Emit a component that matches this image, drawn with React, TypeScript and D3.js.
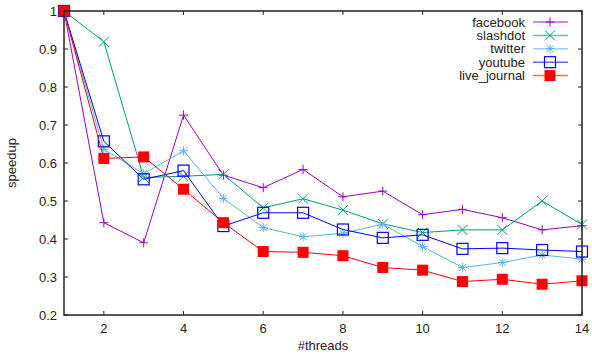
import React, { useRef, useEffect } from "react";
import * as d3 from "d3";

const threads = [1, 2, 3, 4, 5, 6, 7, 8, 9, 10, 11, 12, 13, 14];
const facebook = [1, 0.443, 0.39, 0.726, 0.568, 0.535, 0.583, 0.511, 0.526, 0.464, 0.478, 0.456, 0.424, 0.435];
const slashdot = [1, 0.919, 0.562, 0.565, 0.57, 0.482, 0.506, 0.476, 0.44, 0.417, 0.424, 0.424, 0.5, 0.438];
const twitter = [1, 0.636, 0.572, 0.632, 0.507, 0.43, 0.406, 0.415, 0.439, 0.38, 0.325, 0.338, 0.358, 0.347];
const youtube = [1, 0.657, 0.557, 0.58, 0.434, 0.469, 0.469, 0.425, 0.403, 0.411, 0.374, 0.376, 0.371, 0.367];
const liveJournal = [1, 0.612, 0.616, 0.531, 0.443, 0.367, 0.365, 0.356, 0.325, 0.318, 0.288, 0.294, 0.281, 0.29];

const seriesNames = ["facebook", "slashdot", "twitter", "youtube", "live_journal"];
const xTicks = [2, 4, 6, 8, 10, 12, 14];
const yTicks = [0.2, 0.3, 0.4, 0.5, 0.6, 0.7, 0.8, 0.9, 1];

const App = () => {
  const svgRef = useRef<SVGSVGElement>(null);

  useEffect(() => {
    const svg = d3.select(svgRef.current);
    svg.selectAll("*").remove();

    const width = 592;
    const height = 356;
    const margin = { top: 11, right: 10, bottom: 41, left: 64 };
    const innerW = width - margin.left - margin.right;
    const innerH = height - margin.top - margin.bottom;
    const font = "'Liberation Sans', Arial, sans-serif";

    svg.attr("width", width).attr("height", height);

    const x = d3.scaleLinear().domain([1, 14]).range([margin.left, margin.left + innerW]);
    const y = d3.scaleLinear().domain([0.2, 1]).range([margin.top + innerH, margin.top]);

    const series = [
      { name: seriesNames[0], values: facebook, color: "#9400d3", marker: "plus" },
      { name: seriesNames[1], values: slashdot, color: "#009e73", marker: "cross" },
      { name: seriesNames[2], values: twitter, color: "#56b4e9", marker: "star" },
      { name: seriesNames[3], values: youtube, color: "#0000ff", marker: "box" },
      { name: seriesNames[4], values: liveJournal, color: "#ff0000", marker: "fbox" },
    ];

    // draw a gnuplot style point
    const drawMarker = (g, type, cx, cy, color) => {
      const r = 4.5;
      if (type === "plus" || type === "star") {
        g.append("path").attr("d", `M${cx - r},${cy}H${cx + r}M${cx},${cy - r}V${cy + r}`)
          .attr("stroke", color).attr("stroke-width", 1).attr("fill", "none");
      }
      if (type === "cross" || type === "star") {
        const s = type === "star" ? 3.5 : 5;
        g.append("path").attr("d", `M${cx - s},${cy - s}L${cx + s},${cy + s}M${cx - s},${cy + s}L${cx + s},${cy - s}`)
          .attr("stroke", color).attr("stroke-width", 1).attr("fill", "none");
      }
      if (type === "box") {
        g.append("rect").attr("x", cx - 5.5).attr("y", cy - 5.5).attr("width", 11).attr("height", 11)
          .attr("fill", "none").attr("stroke", color).attr("stroke-width", 1.2);
      }
      if (type === "fbox") {
        g.append("rect").attr("x", cx - 5.5).attr("y", cy - 5.5).attr("width", 11).attr("height", 11)
          .attr("fill", color);
      }
    };

    // ticks (inward, mirrored)
    const ticks = svg.append("g").attr("stroke", "#222").attr("stroke-width", 1);
    xTicks.forEach((t) => {
      ticks.append("line").attr("x1", x(t)).attr("x2", x(t)).attr("y1", y(0.2)).attr("y2", y(0.2) - 4);
      ticks.append("line").attr("x1", x(t)).attr("x2", x(t)).attr("y1", y(1)).attr("y2", y(1) + 4);
    });
    yTicks.forEach((t) => {
      ticks.append("line").attr("x1", x(1)).attr("x2", x(1) + 4).attr("y1", y(t)).attr("y2", y(t));
      ticks.append("line").attr("x1", x(14)).attr("x2", x(14) - 4).attr("y1", y(t)).attr("y2", y(t));
    });

    svg.append("g").selectAll("text").data(xTicks).join("text")
      .attr("x", (d) => x(d)).attr("y", y(0.2) + 18)
      .attr("text-anchor", "middle").attr("font-family", font).attr("font-size", 13).attr("fill", "#222")
      .text((d) => d);

    svg.append("g").selectAll("text").data(yTicks).join("text")
      .attr("x", x(1) - 7).attr("y", (d) => y(d) + 4.5)
      .attr("text-anchor", "end").attr("font-family", font).attr("font-size", 13).attr("fill", "#222")
      .text((d) => d3.format("")(d));

    // series
    const line = d3.line<number>().x((d, i) => x(threads[i])).y((d) => y(d));
    series.forEach((s) => {
      const g = svg.append("g");
      g.append("path").datum(s.values).attr("d", line).attr("fill", "none")
        .attr("stroke", s.color).attr("stroke-width", 1);
      s.values.forEach((v, i) => drawMarker(g, s.marker, x(threads[i]), y(v), s.color));
    });

    // border
    svg.append("rect").attr("x", x(1)).attr("y", y(1)).attr("width", innerW).attr("height", innerH)
      .attr("fill", "none").attr("stroke", "#222").attr("stroke-width", 1.5);

    // legend
    const legend = svg.append("g");
    series.forEach((s, i) => {
      const ly = 22 + i * 13.4;
      legend.append("text").attr("x", 525).attr("y", ly + 4.5).attr("text-anchor", "end")
        .attr("font-family", font).attr("font-size", 13).attr("fill", "#222").text(s.name);
      legend.append("line").attr("x1", 533).attr("x2", 568).attr("y1", ly).attr("y2", ly)
        .attr("stroke", s.color).attr("stroke-width", 1.5).attr("opacity", 0.6);
      drawMarker(legend, s.marker, 550, ly, s.color);
    });

    // axis titles
    svg.append("text").attr("transform", `translate(16,${margin.top + innerH / 2}) rotate(-90)`)
      .attr("text-anchor", "middle").attr("font-family", font).attr("font-size", 13).attr("fill", "#222")
      .text("speedup");
    svg.append("text").attr("x", margin.left + innerW / 2).attr("y", height - 6)
      .attr("text-anchor", "middle").attr("font-family", font).attr("font-size", 13).attr("fill", "#222")
      .text("#threads");
  }, []);

  return (
    <div style={{ position: "absolute", left: 0, top: 0 }}>
      <svg ref={svgRef}></svg>
    </div>
  );
};

export default App;
